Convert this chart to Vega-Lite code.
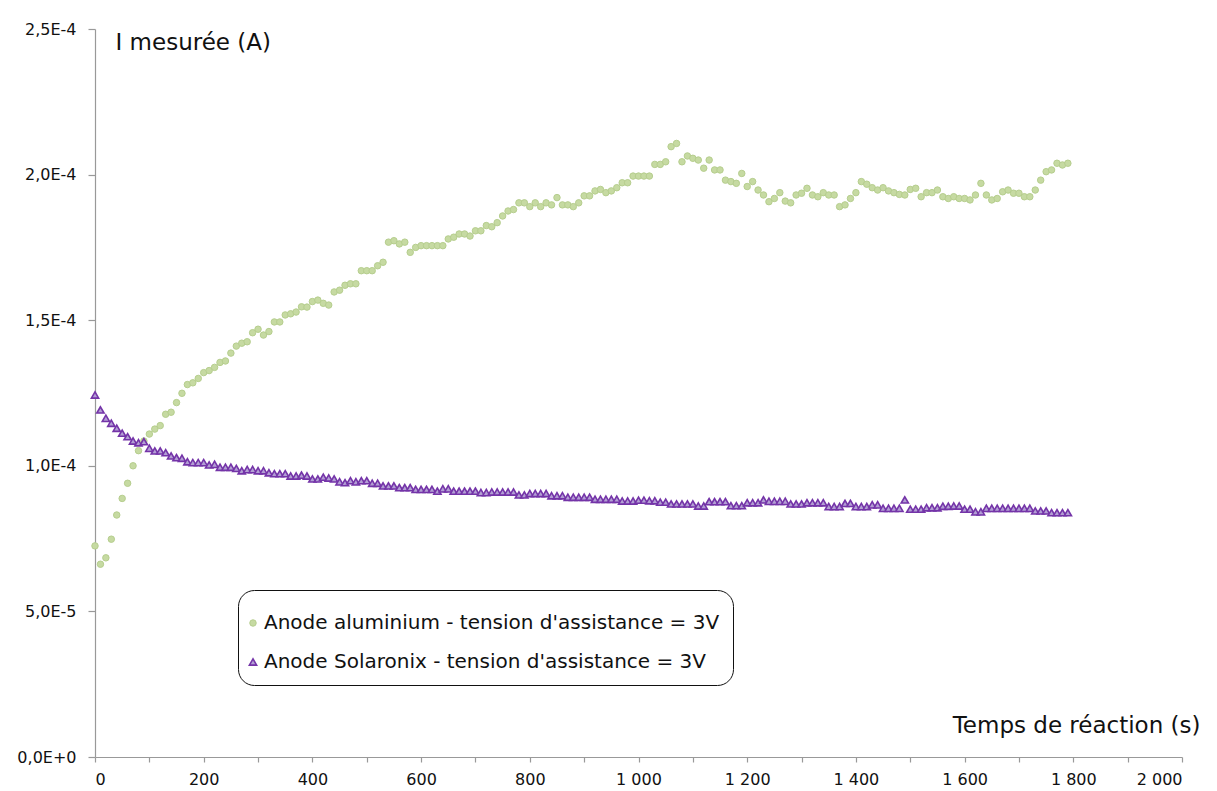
{
  "$schema": "https://vega.github.io/schema/vega-lite/v6.json",
  "width": 1087,
  "height": 728,
  "autosize": {"type": "none"},
  "padding": {"left": 95, "top": 29, "right": 35, "bottom": 34},
  "background": "white",
  "config": {
    "view": {"stroke": null},
    "font": "DejaVu Sans",
    "axis": {
      "grid": false,
      "domainColor": "#999999",
      "tickColor": "#999999",
      "domainWidth": 1.2,
      "tickWidth": 1.2,
      "labelFont": "DejaVu Sans",
      "labelFontSize": 16,
      "labelColor": "#111111",
      "titleFont": "DejaVu Sans",
      "titleFontSize": 23,
      "titleFontWeight": "normal",
      "titleColor": "#111111"
    }
  },
  "data": {
    "values": [
      {"t":0,"alu":0.725e-4,"sol":1.243e-4},
      {"t":10,"alu":0.662e-4,"sol":1.192e-4},
      {"t":20,"alu":0.684e-4,"sol":1.163e-4},
      {"t":30,"alu":0.748e-4,"sol":1.146e-4},
      {"t":40,"alu":0.831e-4,"sol":1.129e-4},
      {"t":50,"alu":0.888e-4,"sol":1.112e-4},
      {"t":60,"alu":0.940e-4,"sol":1.100e-4},
      {"t":70,"alu":1.000e-4,"sol":1.085e-4},
      {"t":80,"alu":1.052e-4,"sol":1.079e-4},
      {"t":90,"alu":1.085e-4,"sol":1.083e-4},
      {"t":100,"alu":1.109e-4,"sol":1.060e-4},
      {"t":110,"alu":1.126e-4,"sol":1.051e-4},
      {"t":120,"alu":1.138e-4,"sol":1.051e-4},
      {"t":130,"alu":1.177e-4,"sol":1.045e-4},
      {"t":140,"alu":1.184e-4,"sol":1.034e-4},
      {"t":150,"alu":1.217e-4,"sol":1.028e-4},
      {"t":160,"alu":1.249e-4,"sol":1.026e-4},
      {"t":170,"alu":1.279e-4,"sol":1.014e-4},
      {"t":180,"alu":1.285e-4,"sol":1.011e-4},
      {"t":190,"alu":1.300e-4,"sol":1.011e-4},
      {"t":200,"alu":1.320e-4,"sol":1.011e-4},
      {"t":210,"alu":1.327e-4,"sol":1.003e-4},
      {"t":220,"alu":1.338e-4,"sol":1.005e-4},
      {"t":230,"alu":1.355e-4,"sol":0.995e-4},
      {"t":240,"alu":1.360e-4,"sol":0.995e-4},
      {"t":250,"alu":1.387e-4,"sol":0.995e-4},
      {"t":260,"alu":1.411e-4,"sol":0.991e-4},
      {"t":270,"alu":1.421e-4,"sol":0.983e-4},
      {"t":280,"alu":1.426e-4,"sol":0.987e-4},
      {"t":290,"alu":1.457e-4,"sol":0.987e-4},
      {"t":300,"alu":1.469e-4,"sol":0.983e-4},
      {"t":310,"alu":1.449e-4,"sol":0.983e-4},
      {"t":320,"alu":1.461e-4,"sol":0.976e-4},
      {"t":330,"alu":1.494e-4,"sol":0.973e-4},
      {"t":340,"alu":1.494e-4,"sol":0.973e-4},
      {"t":350,"alu":1.518e-4,"sol":0.973e-4},
      {"t":360,"alu":1.522e-4,"sol":0.965e-4},
      {"t":370,"alu":1.528e-4,"sol":0.965e-4},
      {"t":380,"alu":1.546e-4,"sol":0.968e-4},
      {"t":390,"alu":1.545e-4,"sol":0.965e-4},
      {"t":400,"alu":1.564e-4,"sol":0.955e-4},
      {"t":410,"alu":1.569e-4,"sol":0.955e-4},
      {"t":420,"alu":1.558e-4,"sol":0.961e-4},
      {"t":430,"alu":1.552e-4,"sol":0.958e-4},
      {"t":440,"alu":1.597e-4,"sol":0.955e-4},
      {"t":450,"alu":1.603e-4,"sol":0.945e-4},
      {"t":460,"alu":1.620e-4,"sol":0.942e-4},
      {"t":470,"alu":1.625e-4,"sol":0.949e-4},
      {"t":480,"alu":1.625e-4,"sol":0.945e-4},
      {"t":490,"alu":1.670e-4,"sol":0.949e-4},
      {"t":500,"alu":1.670e-4,"sol":0.949e-4},
      {"t":510,"alu":1.670e-4,"sol":0.940e-4},
      {"t":520,"alu":1.687e-4,"sol":0.940e-4},
      {"t":530,"alu":1.699e-4,"sol":0.931e-4},
      {"t":540,"alu":1.768e-4,"sol":0.931e-4},
      {"t":550,"alu":1.773e-4,"sol":0.931e-4},
      {"t":560,"alu":1.762e-4,"sol":0.925e-4},
      {"t":570,"alu":1.768e-4,"sol":0.925e-4},
      {"t":580,"alu":1.733e-4,"sol":0.925e-4},
      {"t":590,"alu":1.750e-4,"sol":0.919e-4},
      {"t":600,"alu":1.756e-4,"sol":0.919e-4},
      {"t":610,"alu":1.756e-4,"sol":0.919e-4},
      {"t":620,"alu":1.756e-4,"sol":0.919e-4},
      {"t":630,"alu":1.756e-4,"sol":0.913e-4},
      {"t":640,"alu":1.756e-4,"sol":0.921e-4},
      {"t":650,"alu":1.779e-4,"sol":0.921e-4},
      {"t":660,"alu":1.785e-4,"sol":0.913e-4},
      {"t":670,"alu":1.796e-4,"sol":0.913e-4},
      {"t":680,"alu":1.796e-4,"sol":0.913e-4},
      {"t":690,"alu":1.789e-4,"sol":0.913e-4},
      {"t":700,"alu":1.807e-4,"sol":0.913e-4},
      {"t":710,"alu":1.807e-4,"sol":0.908e-4},
      {"t":720,"alu":1.825e-4,"sol":0.908e-4},
      {"t":730,"alu":1.821e-4,"sol":0.910e-4},
      {"t":740,"alu":1.835e-4,"sol":0.910e-4},
      {"t":750,"alu":1.858e-4,"sol":0.910e-4},
      {"t":760,"alu":1.875e-4,"sol":0.910e-4},
      {"t":770,"alu":1.880e-4,"sol":0.910e-4},
      {"t":780,"alu":1.903e-4,"sol":0.900e-4},
      {"t":790,"alu":1.903e-4,"sol":0.900e-4},
      {"t":800,"alu":1.890e-4,"sol":0.905e-4},
      {"t":810,"alu":1.903e-4,"sol":0.905e-4},
      {"t":820,"alu":1.890e-4,"sol":0.905e-4},
      {"t":830,"alu":1.903e-4,"sol":0.905e-4},
      {"t":840,"alu":1.896e-4,"sol":0.897e-4},
      {"t":850,"alu":1.921e-4,"sol":0.897e-4},
      {"t":860,"alu":1.896e-4,"sol":0.897e-4},
      {"t":870,"alu":1.896e-4,"sol":0.892e-4},
      {"t":880,"alu":1.890e-4,"sol":0.892e-4},
      {"t":890,"alu":1.903e-4,"sol":0.892e-4},
      {"t":900,"alu":1.927e-4,"sol":0.892e-4},
      {"t":910,"alu":1.927e-4,"sol":0.892e-4},
      {"t":920,"alu":1.944e-4,"sol":0.885e-4},
      {"t":930,"alu":1.949e-4,"sol":0.885e-4},
      {"t":940,"alu":1.938e-4,"sol":0.885e-4},
      {"t":950,"alu":1.944e-4,"sol":0.885e-4},
      {"t":960,"alu":1.955e-4,"sol":0.885e-4},
      {"t":970,"alu":1.972e-4,"sol":0.879e-4},
      {"t":980,"alu":1.972e-4,"sol":0.879e-4},
      {"t":990,"alu":1.995e-4,"sol":0.879e-4},
      {"t":1000,"alu":1.995e-4,"sol":0.882e-4},
      {"t":1010,"alu":1.995e-4,"sol":0.882e-4},
      {"t":1020,"alu":1.995e-4,"sol":0.880e-4},
      {"t":1030,"alu":2.035e-4,"sol":0.880e-4},
      {"t":1040,"alu":2.035e-4,"sol":0.875e-4},
      {"t":1050,"alu":2.044e-4,"sol":0.875e-4},
      {"t":1060,"alu":2.096e-4,"sol":0.869e-4},
      {"t":1070,"alu":2.107e-4,"sol":0.869e-4},
      {"t":1080,"alu":2.044e-4,"sol":0.869e-4},
      {"t":1090,"alu":2.064e-4,"sol":0.869e-4},
      {"t":1100,"alu":2.056e-4,"sol":0.869e-4},
      {"t":1110,"alu":2.050e-4,"sol":0.862e-4},
      {"t":1120,"alu":2.022e-4,"sol":0.862e-4},
      {"t":1130,"alu":2.050e-4,"sol":0.877e-4},
      {"t":1140,"alu":2.016e-4,"sol":0.877e-4},
      {"t":1150,"alu":2.016e-4,"sol":0.877e-4},
      {"t":1160,"alu":1.981e-4,"sol":0.877e-4},
      {"t":1170,"alu":1.976e-4,"sol":0.863e-4},
      {"t":1180,"alu":1.970e-4,"sol":0.863e-4},
      {"t":1190,"alu":2.004e-4,"sol":0.863e-4},
      {"t":1200,"alu":1.959e-4,"sol":0.873e-4},
      {"t":1210,"alu":1.976e-4,"sol":0.873e-4},
      {"t":1220,"alu":1.947e-4,"sol":0.873e-4},
      {"t":1230,"alu":1.930e-4,"sol":0.883e-4},
      {"t":1240,"alu":1.907e-4,"sol":0.878e-4},
      {"t":1250,"alu":1.918e-4,"sol":0.878e-4},
      {"t":1260,"alu":1.938e-4,"sol":0.878e-4},
      {"t":1270,"alu":1.909e-4,"sol":0.878e-4},
      {"t":1280,"alu":1.903e-4,"sol":0.869e-4},
      {"t":1290,"alu":1.930e-4,"sol":0.869e-4},
      {"t":1300,"alu":1.936e-4,"sol":0.869e-4},
      {"t":1310,"alu":1.953e-4,"sol":0.873e-4},
      {"t":1320,"alu":1.930e-4,"sol":0.873e-4},
      {"t":1330,"alu":1.924e-4,"sol":0.873e-4},
      {"t":1340,"alu":1.938e-4,"sol":0.873e-4},
      {"t":1350,"alu":1.930e-4,"sol":0.860e-4},
      {"t":1360,"alu":1.930e-4,"sol":0.860e-4},
      {"t":1370,"alu":1.890e-4,"sol":0.860e-4},
      {"t":1380,"alu":1.896e-4,"sol":0.871e-4},
      {"t":1390,"alu":1.918e-4,"sol":0.871e-4},
      {"t":1400,"alu":1.938e-4,"sol":0.860e-4},
      {"t":1410,"alu":1.976e-4,"sol":0.860e-4},
      {"t":1420,"alu":1.967e-4,"sol":0.860e-4},
      {"t":1430,"alu":1.955e-4,"sol":0.866e-4},
      {"t":1440,"alu":1.947e-4,"sol":0.866e-4},
      {"t":1450,"alu":1.955e-4,"sol":0.854e-4},
      {"t":1460,"alu":1.944e-4,"sol":0.854e-4},
      {"t":1470,"alu":1.938e-4,"sol":0.854e-4},
      {"t":1480,"alu":1.932e-4,"sol":0.854e-4},
      {"t":1490,"alu":1.930e-4,"sol":0.883e-4},
      {"t":1500,"alu":1.949e-4,"sol":0.851e-4},
      {"t":1510,"alu":1.953e-4,"sol":0.851e-4},
      {"t":1520,"alu":1.924e-4,"sol":0.851e-4},
      {"t":1530,"alu":1.938e-4,"sol":0.856e-4},
      {"t":1540,"alu":1.938e-4,"sol":0.856e-4},
      {"t":1550,"alu":1.947e-4,"sol":0.856e-4},
      {"t":1560,"alu":1.924e-4,"sol":0.861e-4},
      {"t":1570,"alu":1.918e-4,"sol":0.861e-4},
      {"t":1580,"alu":1.924e-4,"sol":0.862e-4},
      {"t":1590,"alu":1.918e-4,"sol":0.862e-4},
      {"t":1600,"alu":1.918e-4,"sol":0.851e-4},
      {"t":1610,"alu":1.913e-4,"sol":0.851e-4},
      {"t":1620,"alu":1.930e-4,"sol":0.842e-4},
      {"t":1630,"alu":1.970e-4,"sol":0.842e-4},
      {"t":1640,"alu":1.930e-4,"sol":0.854e-4},
      {"t":1650,"alu":1.913e-4,"sol":0.854e-4},
      {"t":1660,"alu":1.918e-4,"sol":0.854e-4},
      {"t":1670,"alu":1.941e-4,"sol":0.854e-4},
      {"t":1680,"alu":1.947e-4,"sol":0.854e-4},
      {"t":1690,"alu":1.936e-4,"sol":0.854e-4},
      {"t":1700,"alu":1.936e-4,"sol":0.854e-4},
      {"t":1710,"alu":1.924e-4,"sol":0.854e-4},
      {"t":1720,"alu":1.924e-4,"sol":0.854e-4},
      {"t":1730,"alu":1.947e-4,"sol":0.845e-4},
      {"t":1740,"alu":1.981e-4,"sol":0.845e-4},
      {"t":1750,"alu":2.010e-4,"sol":0.845e-4},
      {"t":1760,"alu":2.016e-4,"sol":0.839e-4},
      {"t":1770,"alu":2.039e-4,"sol":0.839e-4},
      {"t":1780,"alu":2.033e-4,"sol":0.839e-4},
      {"t":1790,"alu":2.039e-4,"sol":0.839e-4}
    ]
  },
  "transform": [{"fold": ["alu", "sol"], "as": ["series", "I"]}],
  "mark": {"type": "point", "opacity": 1},
  "encoding": {
    "x": {
      "field": "t",
      "type": "quantitative",
      "scale": {"domain": [0, 2000], "nice": false},
      "axis": {
        "values": [0,100,200,300,400,500,600,700,800,900,1000,1100,1200,1300,1400,1500,1600,1700,1800,1900,2000],
        "labelExpr": "datum.value % 200 == 0 ? replace(format(datum.value, ','), ',', ' ') : ''",
        "tickSize": 5,
        "labelPadding": 9,
        "title": "Temps de réaction (s)",
        "titleX": 1105,
        "titleY": -25,
        "titleAlign": "right",
        "titleBaseline": "alphabetic",
        "titleAnchor": null
      }
    },
    "y": {
      "field": "I",
      "type": "quantitative",
      "scale": {"domain": [0, 0.00025], "nice": false},
      "axis": {
        "values": [0, 0.00005, 0.0001, 0.00015, 0.0002, 0.00025],
        "labelExpr": "upper(replace(format(datum.value, '.1e'), '.', ','))",
        "tickSize": 7,
        "labelPadding": 12,
        "title": "I mesurée (A)",
        "titleAngle": 0,
        "titleX": 20,
        "titleY": 2,
        "titleAlign": "left",
        "titleBaseline": "top",
        "titleAnchor": null
      }
    },
    "size": {
      "field": "series",
      "type": "nominal",
      "scale": {"domain": ["alu", "sol"], "range": [42, 52]}
    },
    "strokeWidth": {
      "field": "series",
      "type": "nominal",
      "scale": {"domain": ["alu", "sol"], "range": [1, 1.6]}
    },
    "fill": {
      "field": "series",
      "type": "nominal",
      "scale": {"domain": ["alu", "sol"], "range": ["#c6daa2", "#b39fd4"]},
      "legend": {
        "orient": "none",
        "legendX": 143,
        "legendY": 561,
        "title": " ",
        "titleFontSize": 1,
        "titlePadding": 9,
        "direction": "vertical",
        "strokeColor": "#111111",
        "cornerRadius": 16,
        "fillColor": "white",
        "padding": 13,
        "labelFont": "DejaVu Sans",
        "labelFontSize": 20,
        "labelColor": "#111111",
        "labelOffset": 1,
        "symbolOffset": -8,
        "rowPadding": 19,
        "symbolSize": 25,
        "labelLimit": 600,
        "labelExpr": "datum.value == 'alu' ? \"Anode aluminium - tension d'assistance = 3V\" : \"Anode Solaronix - tension d'assistance = 3V\"",
        "encode": {
          "symbols": {"update": {"size": {"value": 25}, "strokeWidth": {"value": 1}}}
        }
      }
    },
    "stroke": {
      "field": "series",
      "type": "nominal",
      "scale": {"domain": ["alu", "sol"], "range": ["#b6ce8e", "#7434a8"]}
    },
    "shape": {
      "field": "series",
      "type": "nominal",
      "scale": {"domain": ["alu", "sol"], "range": ["circle", "triangle-up"]}
    }
  }
}
